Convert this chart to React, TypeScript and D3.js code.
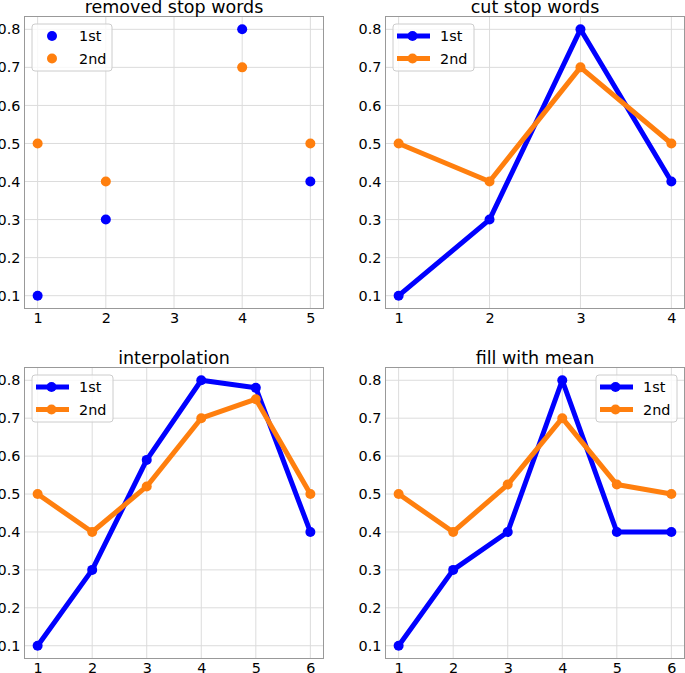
import React, { useRef, useEffect } from 'react';
import * as d3 from 'd3';

// values
const removedX = [1, 2, 4, 5];
const removedFirst = [0.1, 0.3, 0.8, 0.4];
const removedSecond = [0.5, 0.4, 0.7, 0.5];

const cutX = [1, 2, 3, 4];
const cutFirst = [0.1, 0.3, 0.8, 0.4];
const cutSecond = [0.5, 0.4, 0.7, 0.5];

const interpX = [1, 2, 3, 4, 5, 6];
const interpFirst = [0.1, 0.3, 0.59, 0.8, 0.78, 0.4];
const interpSecond = [0.5, 0.4, 0.52, 0.7, 0.75, 0.5];

const meanX = [1, 2, 3, 4, 5, 6];
const meanFirst = [0.1, 0.3, 0.4, 0.8, 0.4, 0.4];
const meanSecond = [0.5, 0.4, 0.525, 0.7, 0.525, 0.5];

const seriesNames = ['1st', '2nd'];
const seriesColors = ['#0000ff', '#ff7f0e'];
const yTicks = [0.1, 0.2, 0.3, 0.4, 0.5, 0.6, 0.7, 0.8];

const panels = [
  { title: 'removed stop words', x: removedX, ys: [removedFirst, removedSecond], kind: 'scatter', legend: 'left' },
  { title: 'cut stop words', x: cutX, ys: [cutFirst, cutSecond], kind: 'line', legend: 'left' },
  { title: 'interpolation', x: interpX, ys: [interpFirst, interpSecond], kind: 'line', legend: 'left' },
  { title: 'fill with mean', x: meanX, ys: [meanFirst, meanSecond], kind: 'line', legend: 'right' },
];

const FONT = 'DejaVu Sans, sans-serif';

// matplotlib-like 5% margins around the data
const padded = (vals: number[]) => {
  const [lo, hi] = d3.extent(vals) as [number, number];
  const m = (hi - lo) * 0.05;
  return [lo - m, hi + m];
};

const App = () => {
  const svgRef = useRef<SVGSVGElement>(null);

  useEffect(() => {
    const svg = d3.select(svgRef.current);
    svg.selectAll('*').remove();

    panels.forEach((p, i) => {
      const col = i % 2;
      const row = Math.floor(i / 2);
      const left = col ? 385 : 24;
      const top = row ? 367 : 16;
      const w = 300;
      const h = row ? 292 : 293;

      const g = svg.append('g').attr('transform', `translate(${left},${top})`);

      const xScale = d3.scaleLinear().domain(padded(p.x)).range([0, w]);
      const yScale = d3.scaleLinear().domain(padded(p.ys.flat())).range([h, 0]);
      const xTicks = d3.range(d3.min(p.x)!, d3.max(p.x)! + 1);

      // grid
      g.append('g')
        .selectAll('line')
        .data(xTicks)
        .join('line')
        .attr('x1', d => xScale(d)).attr('x2', d => xScale(d))
        .attr('y1', 0).attr('y2', h)
        .attr('stroke', '#dcdcdc').attr('stroke-width', 1);
      g.append('g')
        .selectAll('line')
        .data(yTicks)
        .join('line')
        .attr('y1', d => yScale(d)).attr('y2', d => yScale(d))
        .attr('x1', 0).attr('x2', w)
        .attr('stroke', '#dcdcdc').attr('stroke-width', 1);

      // spines
      g.append('rect')
        .attr('x', 0.5).attr('y', 0.5)
        .attr('width', w - 1).attr('height', h - 1)
        .attr('fill', 'none').attr('stroke', '#999').attr('stroke-width', 1);

      // axes
      const xAxis = d3.axisBottom(xScale).tickValues(xTicks).tickFormat(d3.format('d')).tickSize(0).tickPadding(3.5);
      const xg = g.append('g').attr('transform', `translate(0,${h})`).call(xAxis);
      const yAxis = d3.axisLeft(yScale).tickValues(yTicks).tickFormat(d3.format('.1f')).tickSize(0).tickPadding(3.5);
      const yg = g.append('g').call(yAxis);
      [xg, yg].forEach(a => {
        a.select('.domain').remove();
        a.attr('font-family', FONT).attr('font-size', 14.4);
        a.selectAll('text').attr('fill', '#000');
      });

      // series
      p.ys.forEach((vals, s) => {
        const pts = vals.map((v, k) => [p.x[k], v] as [number, number]);
        if (p.kind === 'line') {
          const myLine = d3.line<[number, number]>()
            .x(d => xScale(d[0]))
            .y(d => yScale(d[1]));
          g.append('path')
            .attr('d', myLine(pts))
            .attr('fill', 'none')
            .attr('stroke', seriesColors[s])
            .attr('stroke-width', 5)
            .attr('stroke-linejoin', 'round');
        }
        g.append('g')
          .selectAll('circle')
          .data(pts)
          .join('circle')
          .attr('cx', d => xScale(d[0]))
          .attr('cy', d => yScale(d[1]))
          .attr('r', 5)
          .attr('fill', seriesColors[s]);
      });

      // title
      g.append('text')
        .attr('x', w / 2).attr('y', -3.5)
        .attr('text-anchor', 'middle')
        .attr('font-family', FONT).attr('font-size', 17.5)
        .attr('fill', '#000')
        .text(p.title);

      // legend
      const boxW = p.kind === 'scatter' ? 80 : 81;
      const boxX = p.legend === 'left' ? 8 : w - 8 - boxW;
      const lg = g.append('g').attr('transform', `translate(${boxX},8)`);
      lg.append('rect')
        .attr('width', boxW).attr('height', 47)
        .attr('rx', 3)
        .attr('fill', 'white').attr('fill-opacity', 0.8)
        .attr('stroke', '#cccccc');
      seriesNames.forEach((name, s) => {
        const cy = 12 + s * 22.5;
        if (p.kind === 'line') {
          lg.append('line')
            .attr('x1', 4).attr('x2', 37)
            .attr('y1', cy).attr('y2', cy)
            .attr('stroke', seriesColors[s]).attr('stroke-width', 5);
          lg.append('circle').attr('cx', 19.5).attr('cy', cy).attr('r', 5).attr('fill', seriesColors[s]);
        } else {
          lg.append('circle').attr('cx', 20).attr('cy', cy).attr('r', 5).attr('fill', seriesColors[s]);
        }
        lg.append('text')
          .attr('x', 47).attr('y', cy)
          .attr('dy', '0.36em')
          .attr('font-family', FONT).attr('font-size', 14.4)
          .attr('fill', '#000')
          .text(name);
      });
    });
  }, []);

  return (
    <svg
      ref={svgRef}
      width={685}
      height={673}
      style={{ position: 'absolute', left: 0, top: 0, background: 'white' }}
    />
  );
};

export default App;
